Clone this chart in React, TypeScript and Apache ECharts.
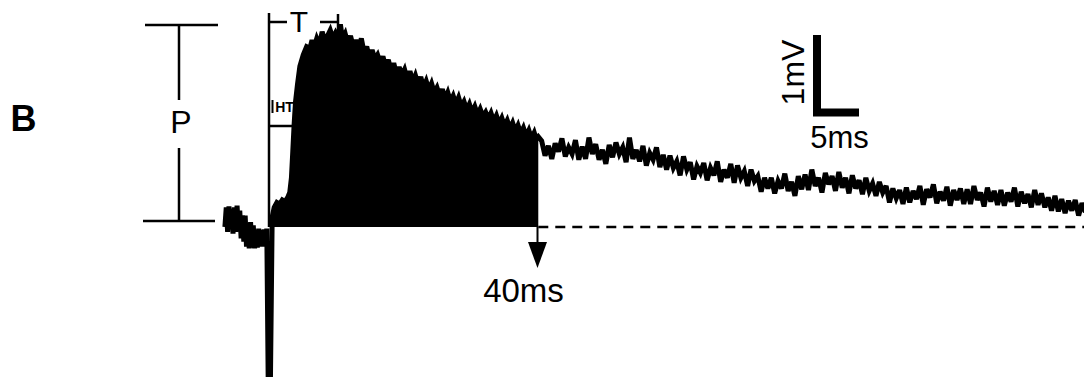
import React, { useEffect, useRef } from "react";
import * as echarts from "echarts";

// Recorded membrane potential (mV) vs time (ms); stimulus at t = 0
const preStimulus: [number, number][] = [
  [-6.4, 0.0], [-6.2, 0.24], [-6.0, -0.06], [-5.8, 0.25], [-5.6, -0.02], [-5.4, 0.22], [-5.2, -0.08],
  [-5.0, 0.24], [-4.8, -0.06], [-4.6, 0.26], [-4.4, -0.04], [-4.2, 0.2], [-4.0, -0.14], [-3.8, 0.14],
  [-3.6, -0.18], [-3.4, 0.14], [-3.2, -0.24], [-3.0, 0.04], [-2.8, -0.26], [-2.6, 0.06], [-2.4, -0.25],
  [-2.2, 0.02], [-2.0, -0.26], [-1.8, -0.04], [-1.6, -0.25], [-1.4, -0.02], [-1.2, -0.24], [-1.0, -0.04],
  [-0.8, -0.24], [-0.6, -0.03], [-0.4, -0.2], [-0.2, -0.02],
];
const stimulusArtifact: [number, number][] = [[0.0, -1.8], [0.35, -1.8]];
const evokedResponse: [number, number][] = [
  [0.6, 0.12], [0.9, 0.24], [1.3, 0.3], [1.7, 0.28], [2.1, 0.33], [2.5, 0.31], [2.9, 0.36],
  [3.2, 0.42], [3.45, 0.6], [3.65, 0.92], [3.85, 1.25], [4.05, 1.52], [4.35, 1.74], [4.7, 1.96],
  [5.2, 2.1], [5.7, 2.2], [6.2, 2.18], [6.5, 2.28], [6.8, 2.19], [7.2, 2.3], [7.6, 2.22], [8.0, 2.38],
  [8.4, 2.27], [8.8, 2.33], [9.2, 2.4], [9.6, 2.3], [10.0, 2.37], [10.4, 2.31], [10.7, 2.47], [11.0, 2.3],
  [11.4, 2.36], [11.8, 2.24], [12.2, 2.33], [12.6, 2.2], [13.0, 2.28], [13.4, 2.16], [13.8, 2.3],
  [14.2, 2.13], [14.6, 2.2], [15.0, 2.06], [15.4, 2.16], [15.8, 2.05], [16.2, 2.1], [16.6, 2.0],
  [17.0, 2.08], [17.4, 1.95], [17.8, 2.04], [18.2, 1.9], [18.6, 2.0], [19.0, 1.86], [19.4, 1.95],
  [19.8, 1.85], [20.2, 1.92], [20.6, 1.8], [21.0, 1.9], [21.4, 1.77], [21.8, 1.85], [22.2, 1.74],
  [22.6, 1.83], [23.0, 1.7], [23.4, 1.78], [23.8, 1.67], [24.2, 1.75], [24.6, 1.64], [25.0, 1.7],
  [25.4, 1.6], [25.8, 1.68], [26.2, 1.56], [26.6, 1.64], [27.0, 1.53], [27.4, 1.6], [27.8, 1.5],
  [28.2, 1.58], [28.6, 1.47], [29.0, 1.53], [29.4, 1.43], [29.8, 1.5], [30.2, 1.4], [30.6, 1.47],
  [31.0, 1.37], [31.4, 1.44], [31.8, 1.35], [32.2, 1.4], [32.6, 1.32], [33.0, 1.39], [33.4, 1.29],
  [33.8, 1.36], [34.2, 1.26], [34.6, 1.33], [35.0, 1.23], [35.4, 1.3], [35.8, 1.2], [36.2, 1.27],
  [36.6, 1.17], [37.0, 1.24], [37.4, 1.14], [37.8, 1.21], [38.2, 1.11], [38.6, 1.18], [39.0, 1.08],
  [39.4, 1.15], [39.7, 1.07], [40.0, 1.1],
];
const tailStartMs = 40.5;
const tailStepMs = 0.5;
const decayTailMv = [
  1.05, 0.87, 0.99, 0.83, 1.02, 0.92, 1.08, 0.86, 0.97, 0.89, 1.06, 0.82,
  0.98, 0.83, 1.09, 0.89, 1.01, 0.82,
  0.94, 0.77, 1.0, 0.85, 1.03, 0.89, 0.97, 0.79, 1.09, 0.83,
  0.94, 0.8, 0.99, 0.75, 0.9, 0.82, 0.97, 0.73, 0.88, 0.7,
  0.87, 0.72, 0.8, 0.63, 0.86, 0.7, 0.79, 0.58, 0.74, 0.66,
  0.78, 0.57, 0.72, 0.63, 0.8, 0.55, 0.7, 0.6, 0.77, 0.54,
  0.75, 0.6, 0.68, 0.5, 0.7, 0.56, 0.62, 0.43, 0.6, 0.47,
  0.6, 0.41, 0.56, 0.47, 0.65, 0.44, 0.55, 0.38, 0.62, 0.46,
  0.64, 0.45, 0.7, 0.5, 0.6, 0.42, 0.66, 0.52,
  0.62, 0.44, 0.67, 0.48, 0.6, 0.41, 0.63, 0.47, 0.57, 0.4,
  0.6, 0.44, 0.53, 0.38, 0.55, 0.42, 0.5, 0.3, 0.47, 0.35, 0.45, 0.28,
  0.48, 0.3, 0.44, 0.34, 0.5, 0.27, 0.46, 0.36, 0.52, 0.29, 0.43, 0.32, 0.49, 0.26, 0.45, 0.33, 0.47, 0.28,
  0.46, 0.28, 0.5, 0.33, 0.42, 0.25, 0.48, 0.31, 0.44, 0.27,
  0.45, 0.26, 0.42, 0.31, 0.48, 0.25, 0.43, 0.29, 0.4, 0.24, 0.45, 0.27,
  0.41, 0.24, 0.36, 0.2, 0.38, 0.19,
  0.34, 0.17, 0.32, 0.2, 0.33, 0.14, 0.29, 0.18,
];
const integrationEndMs = 40;
const baselineEndMs = 121;

const FONT = '"Liberation Sans", Arial, Helvetica, sans-serif';

export default function App() {
  const ref = useRef<HTMLDivElement>(null);
  useEffect(() => {
    if (!ref.current) return;
    const chart = echarts.init(ref.current, null, { renderer: "svg" });
    const tail: [number, number][] = decayTailMv.map((v, i) => [tailStartMs + i * tailStepMs, v]);
    const trace = [...preStimulus, ...stimulusArtifact, ...evokedResponse, ...tail];
    const line = (x1: number, y1: number, x2: number, y2: number, w = 2.5) => ({
      type: "line",
      shape: { x1, y1, x2, y2 },
      style: { stroke: "#000", lineWidth: w },
      silent: true,
    });
    const text = (t: string, x: number, y: number, size: number, extra: any = {}) => ({
      type: "text",
      x,
      y,
      silent: true,
      ...extra,
      style: {
        text: t,
        fill: "#000",
        font: `${extra.weight || "normal"} ${size}px ${FONT}`,
        textAlign: "center",
        textVerticalAlign: "middle",
      },
    });
    chart.setOption({
      animation: false,
      backgroundColor: "#fff",
      grid: { left: 0, right: 0, top: 0, bottom: 0 },
      xAxis: { type: "value", min: -39.7, max: 120.8, show: false },
      yAxis: { type: "value", min: -1.866, max: 2.768, show: false },
      series: [
        {
          type: "line",
          data: evokedResponse,
          showSymbol: false,
          lineStyle: { width: 0 },
          areaStyle: { color: "#000", opacity: 1 },
          silent: true,
        },
        {
          type: "line",
          data: trace,
          showSymbol: false,
          lineStyle: { color: "#000", width: 5, join: "miter", miterLimit: 3 },
          silent: true,
        },
        {
          type: "line",
          data: [[integrationEndMs, 0], [baselineEndMs, 0]],
          showSymbol: false,
          lineStyle: { color: "#000", width: 2.5, type: [10, 7] },
          silent: true,
        },
      ],
      graphic: [
        text("B", 23.5, 118, 36, { weight: "bold" }),
        // P bracket
        line(145, 25, 218, 25),
        line(179, 25, 179, 100),
        text("P", 181, 121.5, 32),
        line(179, 148, 179, 221),
        line(143, 221, 215, 221),
        // stimulus marker
        line(269, 13, 269, 227, 2.5),
        // T bracket
        line(269, 22, 287, 22),
        line(320, 22, 338, 22),
        line(338, 14, 338, 30),
        text("T", 299, 21, 30),
        // HT
        line(268, 126, 293, 126),
        line(272.5, 100, 272.5, 113, 2),
        text("HT", 284.5, 107, 14, { weight: "bold" }),
        // arrow at 40 ms
        line(537.5, 227, 537.5, 244, 2),
        { type: "polygon", shape: { points: [[528, 242], [547, 242], [537.5, 268]] }, style: { fill: "#000" }, silent: true },
        text("40ms", 523.5, 290, 33),
        // scale bar
        {
          type: "polyline",
          shape: { points: [[817, 35], [817, 112.5], [859, 112.5]] },
          style: { stroke: "#000", lineWidth: 8, lineJoin: "miter", lineCap: "butt", fill: null },
          silent: true,
        },
        text("1mV", 792.5, 72.5, 32, { rotation: Math.PI / 2 }),
        text("5ms", 839.5, 137, 31),
      ],
    });
    return () => chart.dispose();
  }, []);
  return (
    <div
      ref={ref}
      style={{ position: "fixed", left: 0, top: 0, width: 1084, height: 380, background: "#fff" }}
    />
  );
}
